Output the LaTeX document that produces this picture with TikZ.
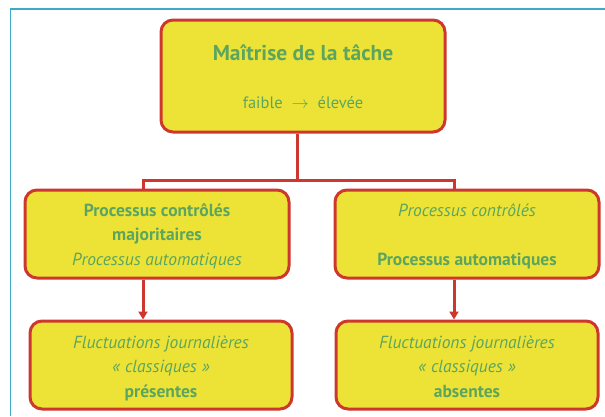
\documentclass[tikz,border=0pt]{standalone}
\usepackage{fontspec}
\setmainfont{PT Sans}
\usetikzlibrary{arrows.meta}
\definecolor{boxfill}{RGB}{237,227,55}
\definecolor{boxline}{RGB}{205,55,45}
\definecolor{txtgreen}{RGB}{93,165,95}
\definecolor{framecol}{RGB}{60,170,200}
\tikzset{
  box/.style={draw=boxline, fill=boxfill, line width=3pt, rounded corners=12pt,
    inner sep=0pt, align=center, text=txtgreen},
  link/.style={draw=boxline, line width=3pt},
}
\begin{document}
\begin{tikzpicture}[x=1pt, y=-1pt]
            \useasboundingbox (0,0) rectangle (605,416);
            \draw[framecol, line width=1.5pt] (10.5,416) -- (10.5,9) -- (605,9);
            % top box
            \node[box, minimum width=284pt, minimum height=112pt, text height=88pt, text depth=24pt,
              font=\fontsize{21.5}{20}\selectfont\bfseries] (tache) at (303,76)
              {Maîtrise de la tâche\\[28pt]{\fontsize{16.5}{16}\selectfont\mdseries faible~~$\rightarrow$~~élevée}};
            % middle boxes
            \node[box, minimum width=264pt, minimum height=88pt, text height=75pt, text depth=13pt,
              font=\fontsize{17.5}{24.5}\selectfont] (ctrl) at (157,234)
              {\textbf{Processus contrôlés}\\\textbf{majoritaires}\\\textit{Processus automatiques}};
            \node[box, minimum width=264pt, minimum height=88pt, text height=75pt, text depth=13pt,
              font=\fontsize{17.5}{24.5}\selectfont] (auto) at (467,234)
              {\textit{Processus contrôlés}\\[24.5pt]\textbf{Processus automatiques}};
            % bottom boxes
            \node[box, minimum width=262pt, minimum height=88pt, text height=76pt, text depth=12pt,
              font=\fontsize{17.5}{24.5}\selectfont] (pres) at (161,365)
              {\textit{Fluctuations journalières}\\\textit{«~classiques~»}\\\textbf{présentes}};
            \node[box, minimum width=262pt, minimum height=88pt, text height=76pt, text depth=12pt,
              font=\fontsize{17.5}{24.5}\selectfont] (abs) at (467,365)
              {\textit{Fluctuations journalières}\\\textit{«~classiques~»}\\\textbf{absentes}};
            % connectors
            \coordinate (fork) at (297,180);
            \draw[link] (tache.south -| fork) -- (fork);
            \draw[link] (fork) -- (143,180) -- (ctrl.north -| 143,0);
            \draw[link] (fork) -- (454,180) -- (auto.north -| 454,0);
            \draw[link, -{Triangle[length=8pt, width=9pt]}] (ctrl.south -| 143,0) -- (pres.north -| 143,0);
            \draw[link, -{Triangle[length=8pt, width=9pt]}] (auto.south -| 454,0) -- (abs.north -| 454,0);
\end{tikzpicture}
\end{document}
